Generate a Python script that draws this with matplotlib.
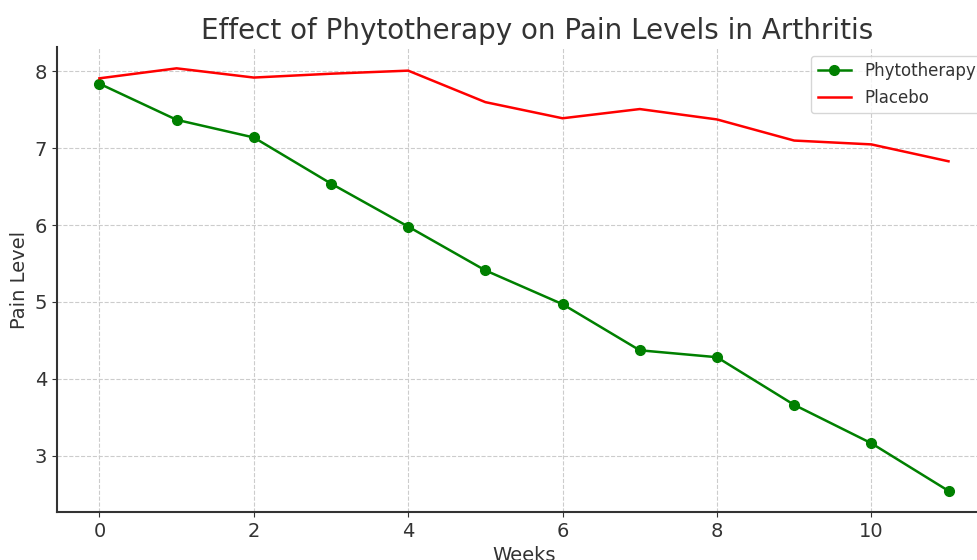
import matplotlib
matplotlib.use("Agg")
import matplotlib.pyplot as plt

weeks = list(range(12))
phyto = [7.84, 7.37, 7.14, 6.54, 5.98, 5.41, 4.97, 4.37, 4.28, 3.66, 3.16, 2.54]
placebo = [7.91, 8.04, 7.92, 7.97, 8.01, 7.60, 7.39, 7.51, 7.375, 7.10, 7.05, 6.83]

txt = "#333333"
plt.rcParams['text.color'] = txt
plt.rcParams['axes.labelcolor'] = txt
plt.rcParams['xtick.color'] = txt
plt.rcParams['ytick.color'] = txt

fig = plt.figure(figsize=(9.77, 5.6), dpi=100)
ax = fig.add_axes([0.0583, 0.0857, 0.956, 0.830])
ax.plot(weeks, phyto, color='green', marker='o', linewidth=1.8, markersize=7, label='Phytotherapy')
ax.plot(weeks, placebo, color='red', linewidth=1.8, label='Placebo')
ax.set_title('Effect of Phytotherapy on Pain Levels in Arthritis', fontsize=20, pad=6, x=0.514)
ax.set_xlabel('Weeks', fontsize=14, labelpad=4)
ax.set_ylabel('Pain Level', fontsize=14)
ax.tick_params(labelsize=14)
ax.grid(True, linestyle='--', color='#cccccc', linewidth=0.8)
for s in ['top', 'right']:
    ax.spines[s].set_visible(False)
for s in ['left', 'bottom']:
    ax.spines[s].set_color('#333333')
    ax.spines[s].set_linewidth(1.5)
ax.legend(loc='upper right', fontsize=12)
fig.savefig('out.png', dpi=100)
